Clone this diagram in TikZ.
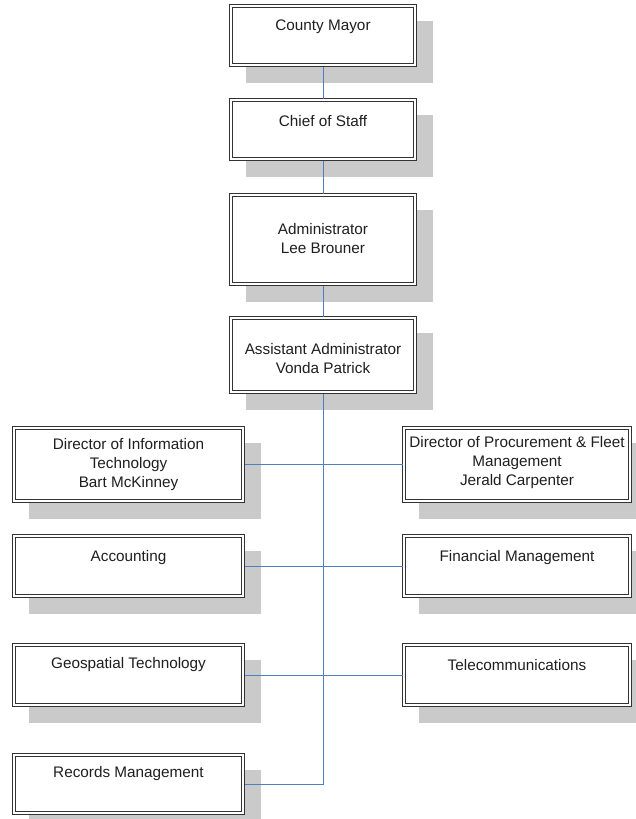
\documentclass[tikz,border=0pt]{standalone}
\usepackage{fontspec}
\setmainfont{Liberation Sans}
\usetikzlibrary{backgrounds}
\definecolor{conn}{HTML}{4F7FC2}
\definecolor{shade}{HTML}{CACACA}
\definecolor{boxline}{HTML}{333333}
\tikzset{
  box/.style={draw=boxline, line width=1.3pt, fill=white, inner sep=0pt, outer sep=0pt},
  innerline/.style={draw=boxline, line width=0.9pt},
  shadowbox/.style={fill=shade},
  txt/.style={align=center, inner sep=0pt, text=black!88,
    font=\fontsize{15.3}{19}\selectfont},
  conline/.style={draw=conn, line width=1pt}
}
\begin{document}
\begin{tikzpicture}[x=1pt,y=-1pt]
\useasboundingbox (0,0) rectangle (636,819);
% boxes
\node[box, minimum width=187pt, minimum height=62pt] (mayor) at (323,35.5) {};
\node[box, minimum width=187pt, minimum height=62pt] (chief) at (323,129.5) {};
\node[box, minimum width=187pt, minimum height=92pt] (admin) at (323,239.5) {};
\node[box, minimum width=187pt, minimum height=77pt] (asst) at (323,355) {};
\node[box, minimum width=232pt, minimum height=76pt] (dirit) at (128.5,464.5) {};
\node[box, minimum width=229pt, minimum height=76pt] (dirproc) at (517,464.5) {};
\node[box, minimum width=232pt, minimum height=63pt] (acct) at (128.5,566) {};
\node[box, minimum width=229pt, minimum height=63pt] (fin) at (517,566) {};
\node[box, minimum width=232pt, minimum height=63pt] (geo) at (128.5,675) {};
\node[box, minimum width=229pt, minimum height=63pt] (tel) at (517,675) {};
\node[box, minimum width=232pt, minimum height=61pt] (rec) at (128.5,784) {};
% inner border lines and shadows
\foreach \n in {mayor,chief,admin,asst,dirit,dirproc,acct,fin,geo,tel,rec}
  \draw[innerline] ([xshift=2.6pt,yshift=-2.6pt]\n.north west) rectangle ([xshift=-2.6pt,yshift=2.6pt]\n.south east);
\begin{scope}[on background layer]
\fill[white] (0,0) rectangle (636,819);
\foreach \n in {mayor,chief,admin,asst,dirit,dirproc,acct,fin,geo,tel,rec}
  \fill[shadowbox] ([xshift=16pt,yshift=-16pt]\n.north west) rectangle ([xshift=16pt,yshift=-16pt]\n.south east);
\end{scope}
% texts
\node[txt] (mayort) at (323,27) {County Mayor};
\node[txt] (chieft) at (323,121) {Chief of Staff};
\node[txt] (admint) at (323,238.5) {Administrator\\Lee Brouner};
\node[txt] (asstt) at (323,359) {Assistant Administrator\\Vonda Patrick};
\node[txt] (diritt) at (128.5,464.5) {Director of Information\\Technology\\Bart McKinney};
\node[txt] (dirproct) at (517,462.5) {Director of Procurement \& Fleet\\Management\\Jerald Carpenter};
\node[txt] (acctt) at (128.5,558) {Accounting};
\node[txt] (fint) at (517,558) {Financial Management};
\node[txt] (geot) at (128.5,665) {Geospatial Technology};
\node[txt] (telt) at (517,665) {Telecommunications};
\node[txt] (rect) at (128.5,774) {Records Management};
% connectors
\coordinate (corner) at (323,784);
\draw[conline] (mayor.south) -- (chief.north);
\draw[conline] (chief.south) -- (admin.north);
\draw[conline] (admin.south) -- (asst.north);
\draw[conline] (asst.south) -- (corner) -- (rec.east);
\draw[conline] (dirit.east) -- (dirproc.west);
\draw[conline] (acct.east) -- (fin.west);
\draw[conline] (geo.east) -- (tel.west);
\end{tikzpicture}
\end{document}
